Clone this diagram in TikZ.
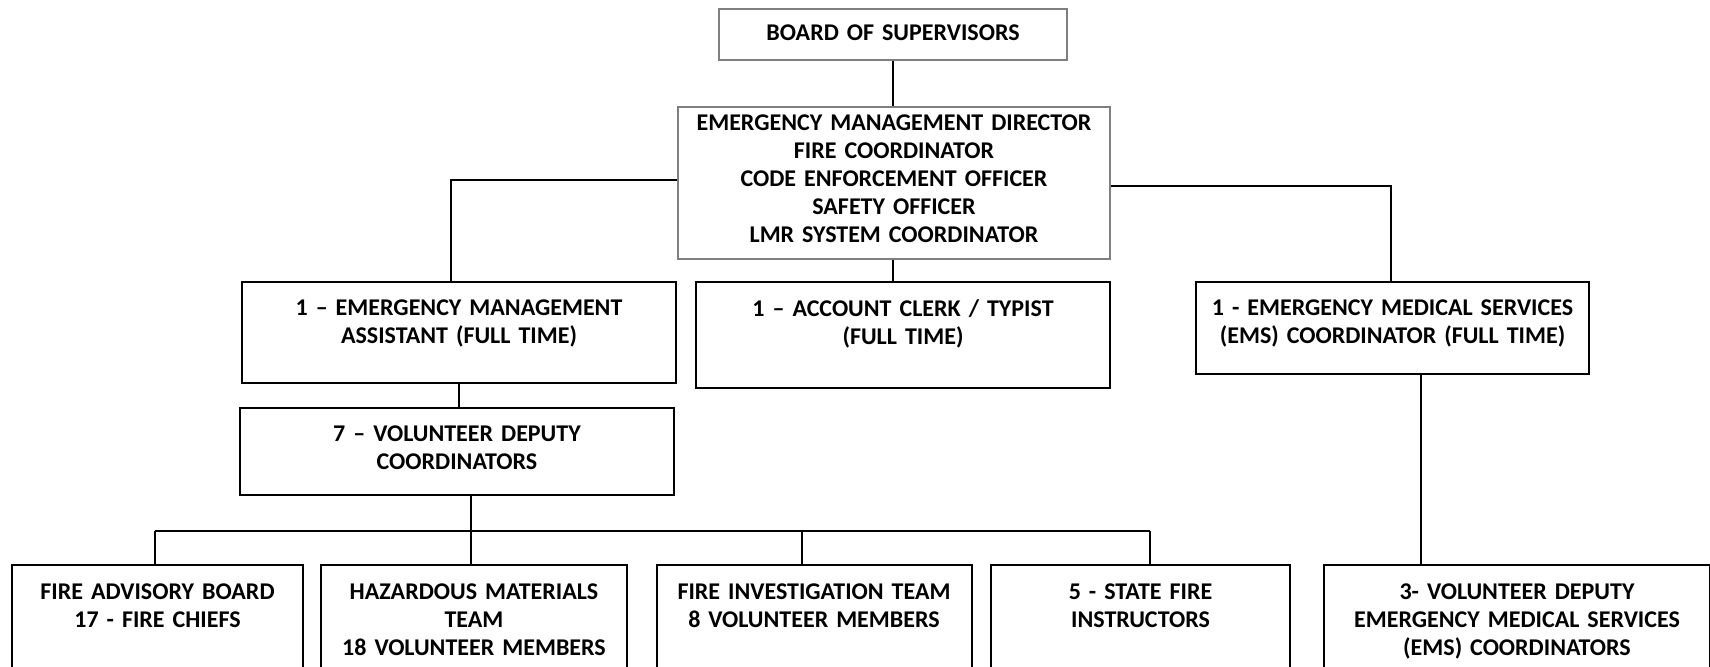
\documentclass[tikz,border=0pt]{standalone}
\usepackage{fontspec}
\setmainfont{Carlito}
\usepackage{tikz}

\tikzset{
  orgbox/.style={draw=black, line width=1.5pt, anchor=north, align=center,
    inner xsep=0pt, inner ysep=13.5pt, font=\bfseries\fontsize{18}{21}\selectfont},
  topbox/.style={orgbox, draw={rgb,255:red,127;green,127;blue,127}},
  link/.style={line width=1.3pt}
}

\begin{document}
\begin{tikzpicture}[x=0.75pt,y=0.75pt,yscale=-1,xscale=1]
\useasboundingbox (0,0) rectangle (1710,667);
\clip (0,0) rectangle (1710,667);

% Text Node
\node (board) at (893,8) [topbox, text width=261pt, inner ysep=11.7pt, text depth=3.3pt] {BOARD OF SUPERVISORS};
% Text Node
\node (director) at (894,106) [topbox, text width=324pt, inner ysep=6pt, text depth=90.4pt] {EMERGENCY MANAGEMENT DIRECTOR\\FIRE COORDINATOR\\CODE ENFORCEMENT OFFICER\\SAFETY OFFICER\\LMR SYSTEM COORDINATOR};
% Text Node
\node (emassist) at (459,281) [orgbox, text width=325.5pt, text depth=36.75pt] {1 – EMERGENCY MANAGEMENT\\ASSISTANT (FULL TIME)};
% Text Node
\node (clerk) at (903,281) [orgbox, text width=310.5pt, text depth=39.75pt] {1 – ACCOUNT CLERK / TYPIST\\(FULL TIME)};
% Text Node
\node (emscoord) at (1392.5,281) [orgbox, text width=294.75pt, text depth=30pt] {1 - EMERGENCY MEDICAL SERVICES\\(EMS) COORDINATOR (FULL TIME)};
% Text Node
\node (deputies) at (457,407) [orgbox, text width=325.5pt, text depth=26.65pt] {7 – VOLUNTEER DEPUTY\\COORDINATORS};
% Text Node
\node (advisory) at (157.5,564) [orgbox, text width=218.25pt, inner ysep=13.7pt, text depth=70pt] {FIRE ADVISORY BOARD\\17 - FIRE CHIEFS};
% Text Node
\node (hazmat) at (474,564) [orgbox, text width=229.5pt, inner ysep=13.7pt, text depth=70pt] {HAZARDOUS MATERIALS\\TEAM\\18 VOLUNTEER MEMBERS};
% Text Node
\node (investigation) at (814,564) [orgbox, text width=236.25pt, inner ysep=13.7pt, text depth=70pt] {FIRE INVESTIGATION TEAM\\8 VOLUNTEER MEMBERS};
% Text Node
\node (instructors) at (1140.5,564) [orgbox, text width=224.25pt, inner ysep=13.7pt, text depth=70pt] {5 - STATE FIRE\\INSTRUCTORS};
% Text Node
\node (emsdeputies) at (1517,564) [orgbox, text width=289.5pt, inner ysep=13.7pt, text depth=70pt] {3- VOLUNTEER DEPUTY\\EMERGENCY MEDICAL SERVICES\\(EMS) COORDINATORS};

% Corner points
\coordinate (leftturn) at (451,180);
\coordinate (rightturn) at (1391,186);
\coordinate (busstart) at (155,531);
\coordinate (bushaz) at (471,531);
\coordinate (businv) at (802,531);
\coordinate (busend) at (1150,531);
\coordinate (emsdrop) at (1421,0);

% Connection
\draw [link]   (board.south) -- (board.south |- director.north) ;


% Connection
\draw [link]   (director.west |- leftturn) -- (leftturn) -- (leftturn |- emassist.north) ;


% Connection
\draw [link]   (director.east |- rightturn) -- (rightturn) -- (rightturn |- emscoord.north) ;


% Connection
\draw [link]   (board.south |- director.south) -- (board.south |- clerk.north) ;


% Connection
\draw [link]   (emassist.south) -- (emassist.south |- deputies.north) ;


% Connection
\draw [link]   (deputies.south -| bushaz) -- (bushaz |- hazmat.north) ;


% Connection
\draw [link]   (busstart) -- (busend) ;


% Connection
\draw [link]   (busstart) -- (busstart |- advisory.north) ;


% Connection
\draw [link]   (businv) -- (businv |- investigation.north) ;


% Connection
\draw [link]   (busend) -- (busend |- instructors.north) ;


% Connection
\draw [link]   (emsdrop |- emscoord.south) -- (emsdrop |- emsdeputies.north) ;



\end{tikzpicture}
\end{document}
